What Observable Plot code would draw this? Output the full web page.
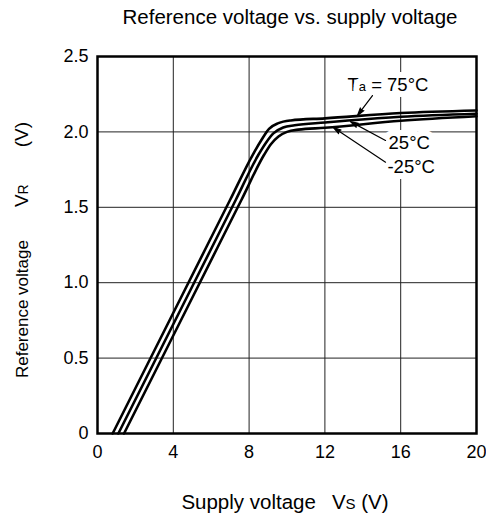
<!DOCTYPE html>
<html>
<head>
<meta charset="utf-8">
<script src="https://cdn.jsdelivr.net/npm/d3@7"></script>
<script src="https://cdn.jsdelivr.net/npm/@observablehq/plot@0.6"></script>
<style>
  html, body { margin: 0; padding: 0; background: white; }
  #chart { width: 486px; height: 518px; }
</style>
</head>
<body>
<div id="chart"></div>
<script>
// ---- data ----
const xTicks = [0, 4, 8, 12, 16, 20];
const yTicks = [0, 0.5, 1.0, 1.5, 2.0, 2.5];

const vs75 = [0.8, 4.5, 7.0, 8.2, 8.65, 9.05, 9.55, 10.2, 12, 16, 20];
const vr75 = [0, 0.925, 1.55, 1.85, 1.946, 2.02, 2.058, 2.076, 2.09, 2.125, 2.142];

const vs25 = [1.1, 4.8, 7.3, 8.5, 8.9, 9.28, 9.8, 10.4, 12, 16, 20];
const vr25 = [0, 0.925, 1.55, 1.85, 1.93, 1.99, 2.029, 2.044, 2.062, 2.1, 2.12];

const vsM25 = [1.4, 5.1, 7.6, 8.8, 9.16, 9.55, 10.0, 10.6, 12, 16, 20];
const vrM25 = [0, 0.925, 1.55, 1.85, 1.92, 1.97, 2.0, 2.015, 2.027, 2.074, 2.104];

const seriesNames = ["75", "25", "-25"];
const labelTexts = ["Ta = 75°C", "25°C", "-25°C"];
const labelX = [13.19, 15.36, 15.3];
const labelY = [2.308, 1.923, 1.764];
const arrowX1 = [14.51, 15.2, 15.2];
const arrowY1 = [2.241, 1.943, 1.799];
const arrowX2 = [13.72, 13.35, 12.45];
const arrowY2 = [2.109, 2.068, 2.029];

const titleText = "Reference voltage vs. supply voltage";

// ---- build tables ----
const rows = [];
[[vs75, vr75], [vs25, vr25], [vsM25, vrM25]].forEach(([xs, ys], i) => {
  xs.forEach((x, j) => rows.push({series: seriesNames[i], vs: x, vr: ys[j]}));
});
const labels = labelTexts.map((t, i) => ({t, x: labelX[i], y: labelY[i]}));
const arrows = arrowX1.map((x1, i) => ({x1, y1: arrowY1[i], x2: arrowX2[i], y2: arrowY2[i]}));

const FONT = "'Liberation Sans', Arial, Helvetica, sans-serif";

const plot = Plot.plot({
  width: 486,
  height: 518,
  marginLeft: 97,
  marginRight: 10,
  marginTop: 56,
  marginBottom: 85,
  style: {fontFamily: FONT, fontSize: "18px", color: "black", background: "white", overflow: "visible"},
  x: {domain: [0, 20], label: null},
  y: {domain: [0, 2.5], label: null},
  marks: [
    Plot.gridX(xTicks, {stroke: "#222", strokeOpacity: 1, strokeWidth: 1}),
    Plot.gridY(yTicks, {stroke: "#222", strokeOpacity: 1, strokeWidth: 1}),
    Plot.axisX(xTicks, {tickSize: 0, tickPadding: 12, fontSize: 18, tickFormat: d => String(d), label: null}),
    Plot.axisY(yTicks, {tickSize: 0, tickPadding: 9, fontSize: 18, tickFormat: d => d === 0 ? "0" : d.toFixed(1), label: null}),
    Plot.text(labels, {x: "x", y: "y", text: "t", textAnchor: "start", lineAnchor: "middle",
      fill: "black", stroke: "white", strokeWidth: 12, fontSize: 18.5}),
    Plot.arrow(arrows, {x1: "x1", y1: "y1", x2: "x2", y2: "y2", stroke: "black", strokeWidth: 1.2,
      headLength: 10, headAngle: 32}),
    Plot.line(rows, {x: "vs", y: "vr", z: "series", stroke: "black", strokeWidth: 2.6, curve: "monotone-x"}),
    Plot.frame({stroke: "black", strokeWidth: 2.5})
  ]
});

document.getElementById("chart").appendChild(plot);

const svg = d3.select(plot);

// filled arrowheads (the head sub-path closes into a triangle when filled)
svg.selectAll('g[aria-label="arrow"] path').attr("fill", "black");

// small letters inside annotation "Ta"
svg.selectAll("text").each(function() {
  const el = d3.select(this);
  if (el.text() === "Ta = 75°C") {
    el.text(null);
    el.append("tspan").text("T");
    el.append("tspan").attr("font-size", 13).text("a");
    el.append("tspan").text(" = 75°C");
  }
});

// title
svg.append("text")
  .attr("x", 290).attr("y", 24)
  .attr("text-anchor", "middle")
  .attr("font-family", FONT).attr("font-size", 20.5).attr("fill", "black")
  .text(titleText);

// x label
const xl = svg.append("text")
  .attr("x", 285).attr("y", 509)
  .attr("text-anchor", "middle")
  .attr("font-family", FONT).attr("font-size", 20.5).attr("fill", "black");
xl.append("tspan").text("Supply voltage");
xl.append("tspan").attr("dx", 16).text("V");
xl.append("tspan").attr("font-size", 15).text("S");
xl.append("tspan").text(" (V)");

// y label
const yl = svg.append("text")
  .attr("transform", "translate(28,250) rotate(-90)")
  .attr("text-anchor", "middle")
  .attr("font-family", FONT).attr("font-size", 17).attr("fill", "black");
yl.append("tspan").text("Reference voltage");
yl.append("tspan").attr("dx", 33).attr("font-size", 19).text("V");
yl.append("tspan").attr("font-size", 14).text("R");
yl.append("tspan").attr("dx", 37).attr("font-size", 19).text("(V)");
</script>
</body>
</html>
